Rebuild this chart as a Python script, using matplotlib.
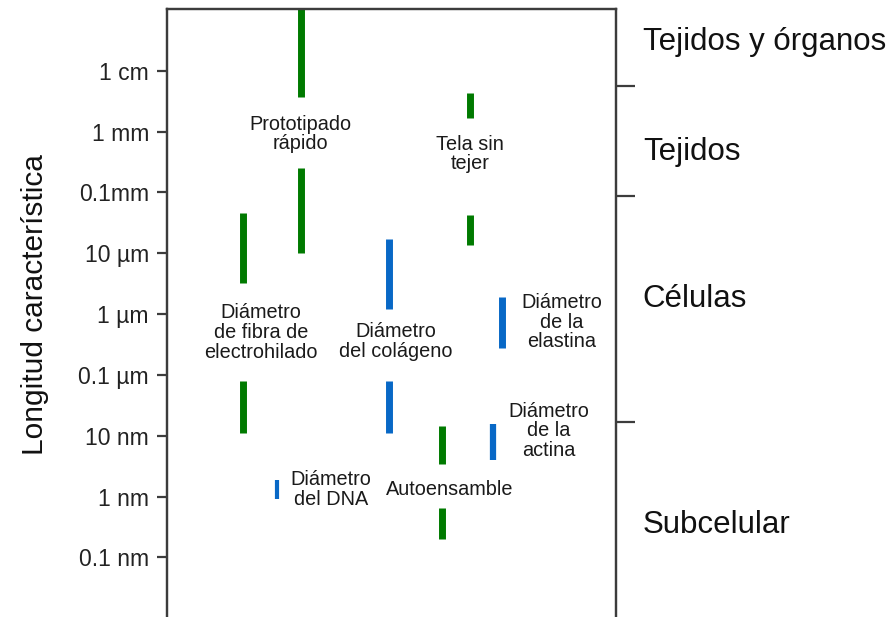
import matplotlib
matplotlib.use("Agg")
import matplotlib.pyplot as plt
import matplotlib.transforms as mtransforms
from matplotlib.ticker import NullLocator

plt.rcParams["font.family"] = ["Liberation Sans", "DejaVu Sans"]

# length scale ticks (meters)
tick_vals = [1e-2, 1e-3, 1e-4, 1e-5, 1e-6, 1e-7, 1e-8, 1e-9, 1e-10]
tick_labels = ["1 cm", "1 mm", "0.1mm", "10 \u00b5m", "1 \u00b5m", "0.1 \u00b5m",
               "10 nm", "1 nm", "0.1 nm"]

# range segments: x position, low, high (meters), colour group
seg_x = [2.98, 2.98, 1.69, 1.69, 6.75, 6.75, 6.12, 6.12, 4.94, 4.94, 7.46, 7.26, 2.45]
seg_lo = [3.7e-3, 1.0e-5, 3.3e-6, 1.1e-8, 1.7e-3, 1.35e-5, 3.4e-9, 2.0e-10,
          1.2e-6, 1.1e-8, 2.8e-7, 4.0e-9, 9.3e-10]
seg_hi = [0.2, 2.5e-4, 4.6e-5, 8.1e-8, 4.3e-3, 4.3e-5, 1.45e-8, 6.4e-10,
          1.7e-5, 8.1e-8, 1.9e-6, 1.55e-8, 1.9e-9]
seg_kind = ["fab", "fab", "fab", "fab", "fab", "fab", "fab", "fab",
            "bio", "bio", "bio", "bio", "bio"]
seg_lw = [5, 5, 5, 5, 5, 5, 5, 5, 5, 5, 5, 4.5, 3]

# labels for each technique / structure
lab_text = ["Prototipado\nrápido", "Diámetro\nde fibra de\nelectrohilado",
            "Tela sin\ntejer", "Autoensamble", "Diámetro\ndel colágeno",
            "Diámetro\nde la\nelastina", "Diámetro\nde la\nactina",
            "Diámetro\ndel DNA"]
lab_x = [2.98, 2.09, 6.75, 6.30, 5.10, 8.80, 8.51, 3.65]
lab_y = [9.1e-4, 5.0e-7, 4.3e-4, 1.32e-9, 3.55e-7, 7.4e-7, 1.2e-8, 1.32e-9]

# hierarchy levels on the right
level_bounds = [5.6e-3, 8.9e-5, 1.7e-8]
level_names = ["Tejidos y órganos", "Tejidos", "Células", "Subcelular"]
level_y = [2.95e-2, 4.6e-4, 1.8e-6, 3.4e-10]

colors = {"fab": "#007a00", "bio": "#0868c6"}
edge = "#3c3c3c"

fig = plt.figure(figsize=(8.88, 6.17), dpi=100)
ax = fig.add_axes([0.188, 0.0, 0.5056, 0.9854])
ax.set_yscale("log")
ax.set_ylim(1.05e-11, 1.035e-1)
ax.set_xlim(0, 10)

for x, lo, hi, k, lw in zip(seg_x, seg_lo, seg_hi, seg_kind, seg_lw):
    ax.plot([x, x], [lo, hi], color=colors[k], lw=lw, solid_capstyle="butt")

for t, x, y in zip(lab_text, lab_x, lab_y):
    ax.text(x, y, t, ha="center", va="center", fontsize=14.3,
            linespacing=1.05, color="#1a1a1a")

ax.set_xticks([])
ax.set_yticks(tick_vals)
ax.set_yticklabels(tick_labels, fontsize=16.5, color="#222222")
ax.yaxis.set_minor_locator(NullLocator())
ax.tick_params(axis="y", length=7, width=1.6, color=edge, pad=6)
ax.spines["bottom"].set_visible(False)
for s in ["left", "top", "right"]:
    ax.spines[s].set_color(edge)
    ax.spines[s].set_linewidth(1.6)

ax2 = ax.twinx()
ax2.set_yscale("log")
ax2.set_ylim(ax.get_ylim())
ax2.set_yticks(level_bounds)
ax2.set_yticklabels([])
ax2.yaxis.set_minor_locator(NullLocator())
ax2.tick_params(axis="y", length=14, width=1.6, color=edge)
ax2.spines["bottom"].set_visible(False)
for s in ["left", "top", "right"]:
    ax2.spines[s].set_color(edge)
    ax2.spines[s].set_linewidth(1.6)

trans = mtransforms.blended_transform_factory(ax.transAxes, ax.transData)
for name, y in zip(level_names, level_y):
    ax.text(1.06, y, name, transform=trans, ha="left", va="center",
            fontsize=22.5, color="#111111", clip_on=False)

fig.text(0.039, 0.506, "Longitud característica", rotation=90,
         ha="center", va="center", fontsize=21.5, color="#111111")

fig.savefig("out.png", dpi=100)
